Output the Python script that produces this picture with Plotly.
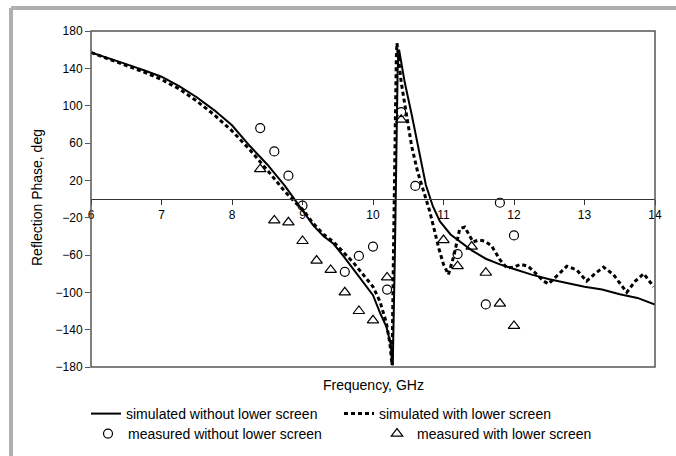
import plotly.graph_objects as go

# ---- data ----
sim_wo_f = [6.0, 6.25, 6.5, 6.75, 7.0, 7.25, 7.5, 7.75, 8.0, 8.25, 8.5, 8.75, 8.9, 9.0, 9.15, 9.3, 9.44,
            9.6, 9.72, 9.85, 10.0, 10.1, 10.19, 10.25, 10.28, 10.31, 10.33, 10.35, 10.37, 10.45, 10.55,
            10.65, 10.75, 10.85, 10.95, 11.1, 11.25, 11.4, 11.6, 11.8, 12.0, 12.25, 12.5, 12.75, 13.0,
            13.25, 13.5, 13.75, 14.0]
sim_wo_p = [157, 151, 144.5, 138, 131, 121, 109, 95, 79, 57, 37, 14, -2, -12, -28, -40, -48,
            -63, -75, -87, -103, -122, -137, -155, -178, -60, 60, 140, 160, 125, 90,
            52, 15, -8, -24, -38, -47, -55, -64, -70, -75, -81, -86, -90, -94,
            -97, -102, -106, -113]

sim_w_f = [6.0, 6.25, 6.5, 6.75, 7.0, 7.25, 7.5, 7.75, 8.0, 8.25, 8.5, 8.75, 8.9, 9.0, 9.15, 9.3, 9.44,
           9.6, 9.72, 9.85, 10.0, 10.1, 10.19, 10.24, 10.27, 10.29, 10.31, 10.33, 10.34, 10.4, 10.48,
           10.55, 10.63, 10.71, 10.8, 10.86, 10.93, 11.0, 11.07, 11.15, 11.23, 11.3, 11.36, 11.42,
           11.5, 11.58, 11.68, 11.8, 11.9, 12.0, 12.09, 12.2, 12.3, 12.42, 12.49, 12.6, 12.75, 12.89,
           13.03, 13.15, 13.27, 13.41, 13.6, 13.72, 13.84, 13.98]
sim_w_p = [157, 150, 143, 136, 128, 118, 105, 90, 73, 53, 31, 8, -4, -11, -26, -38, -46,
           -58, -68, -80, -94, -110, -133, -155, -178, -60, 60, 150, 167, 125, 88,
           56, 30, 10, -12, -30, -52, -70, -81, -60, -32, -30, -38, -46,
           -44, -45, -50, -65, -74, -73, -70, -72, -79, -88, -91, -83, -72, -76,
           -88, -80, -73, -81, -100, -88, -80, -94]

meas_wo_f = [8.4, 8.6, 8.8, 9.0, 9.6, 9.8, 10.0, 10.2, 10.4, 10.6, 11.2, 11.6, 11.8, 12.0]
meas_wo_p = [76, 51, 25, -7, -78, -61, -51, -97, 93, 14, -59, -113, -4, -39]

meas_w_f = [8.4, 8.6, 8.8, 9.0, 9.2, 9.4, 9.6, 9.8, 10.0, 10.2, 10.4, 11.0, 11.2, 11.4, 11.6, 11.8, 12.0]
meas_w_p = [32, -23, -25, -45, -66, -76, -100, -120, -130, -84, 85, -44, -72, -51, -79, -112, -136]

y_ticks = [-180, -140, -100, -60, -20, 20, 60, 100, 140, 180]
x_ticks = [6, 7, 8, 9, 10, 11, 12, 13, 14]

FONT = "Liberation Sans, Arial, sans-serif"

fig = go.Figure()
fig.add_trace(go.Scatter(x=sim_wo_f, y=sim_wo_p, mode="lines", name="simulated without lower screen",
                         line=dict(color="black", width=2), legend="legend"))
fig.add_trace(go.Scatter(x=sim_w_f, y=sim_w_p, mode="lines", name="simulated with lower screen",
                         line=dict(color="black", width=3, dash="4px,3px"), legend="legend"))
fig.add_trace(go.Scatter(x=meas_wo_f, y=meas_wo_p, mode="markers", name="measured without lower screen",
                         marker=dict(symbol="circle-open", size=9, color="black", line=dict(width=1.2)),
                         legend="legend2"))
fig.add_trace(go.Scatter(x=meas_w_f, y=meas_w_p, mode="markers", name="measured with lower screen",
                         marker=dict(symbol="triangle-up-open", size=10, color="black", line=dict(width=1.2)),
                         legend="legend2"))

L, R, T, B = 91, 21, 31, 89
W, H = 676, 456
pw, ph = W - L - R, H - T - B


def px(x):
    return (x - L) / pw


def py(y):
    return (H - B - y) / ph


fig.update_layout(
    width=W, height=H,
    margin=dict(l=L, r=R, t=T, b=B, autoexpand=False),
    paper_bgcolor="white", plot_bgcolor="white",
    font=dict(family=FONT, size=12, color="black"),
    xaxis=dict(range=[6, 14], tickvals=x_ticks, anchor="free", position=0.5,
               showline=True, linecolor="#333", linewidth=1, ticks="outside", ticklen=5,
               tickcolor="#333", showgrid=False, zeroline=False, tickfont=dict(size=12)),
    yaxis=dict(range=[-180, 180], tickvals=y_ticks, ticks="outside", ticklen=5, tickcolor="#555",
               showline=False, showgrid=False, zeroline=False, tickfont=dict(size=12)),
    legend=dict(orientation="h", x=px(86), xanchor="left", y=py(414), yanchor="middle",
                font=dict(size=14), bgcolor="rgba(0,0,0,0)", entrywidth=208, entrywidthmode="pixels"),
    legend2=dict(orientation="h", x=px(88), xanchor="left", y=py(434), yanchor="middle",
                 font=dict(size=14), bgcolor="rgba(0,0,0,0)", entrywidth=244, entrywidthmode="pixels"),
    shapes=[
        dict(type="rect", xref="paper", yref="paper", x0=0, x1=1, y0=0, y1=1,
             line=dict(color="#555", width=1.5), layer="above"),
        dict(type="line", xref="paper", yref="paper", x0=px(11), x1=px(676), y0=py(8), y1=py(8),
             line=dict(color="#b0b0b0", width=4), layer="below"),
        dict(type="line", xref="paper", yref="paper", x0=px(11), x1=px(11), y0=py(8), y1=py(456),
             line=dict(color="#b0b0b0", width=4), layer="below"),
    ],
    annotations=[
        dict(text="Frequency, GHz", xref="paper", yref="paper", x=px(373), y=py(385),
             showarrow=False, font=dict(size=14), xanchor="center", yanchor="middle"),
        dict(text="Reflection Phase, deg", xref="paper", yref="paper", x=px(37), y=py(198),
             showarrow=False, font=dict(size=14), textangle=-90, xanchor="center", yanchor="middle"),
    ],
    showlegend=True,
)

fig.write_html("out.html")
